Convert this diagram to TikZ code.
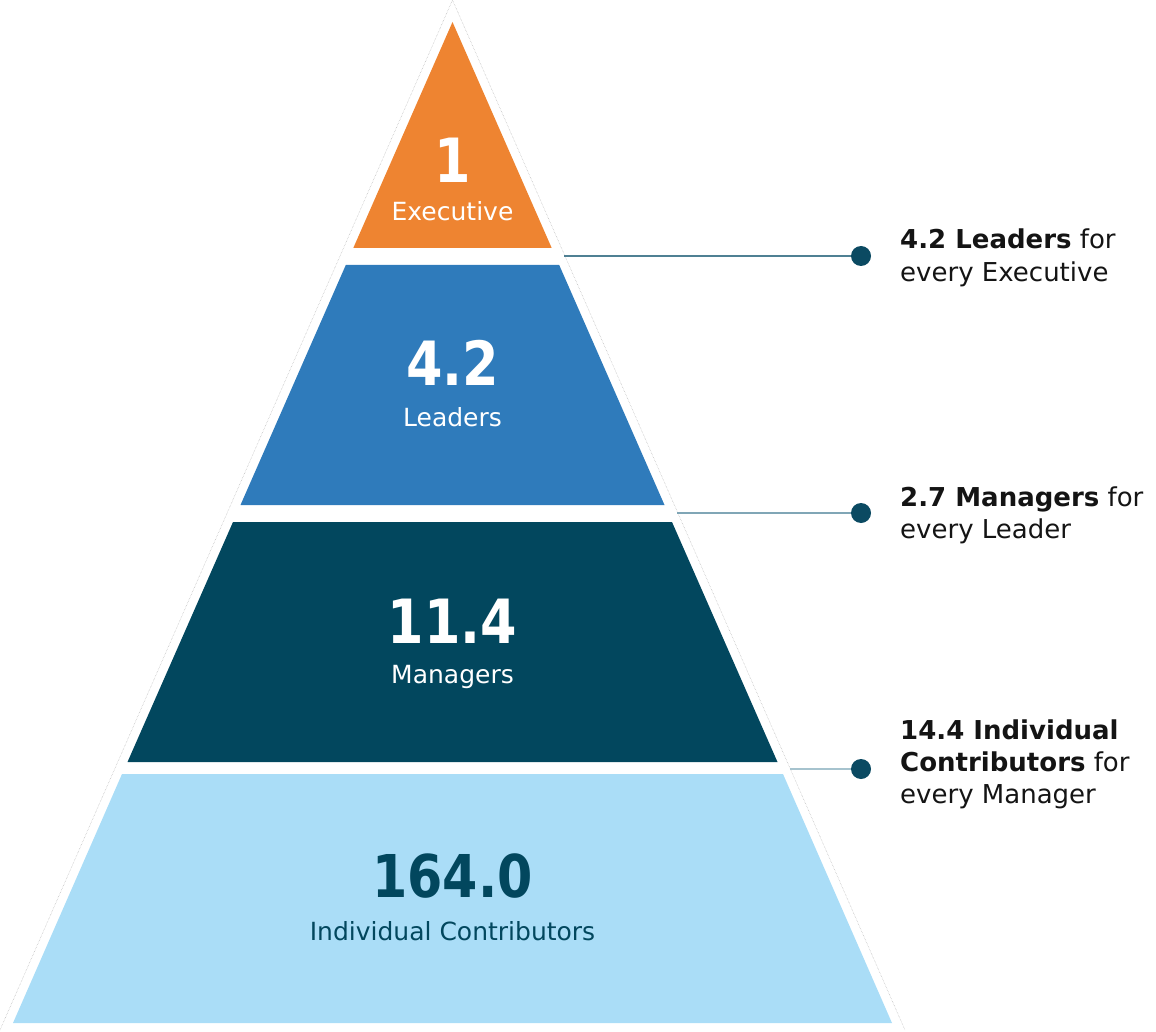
\documentclass[tikz,border=0pt]{standalone}
\usepackage{fontspec}
\setmainfont{DejaVu Sans}
\newfontfamily\numfont{DejaVu Sans}[FakeStretch=0.86]
\definecolor{cOrange}{HTML}{EE8431}
\definecolor{cBlue}{HTML}{2F7BBB}
\definecolor{cDark}{HTML}{02475E}
\definecolor{cLight}{HTML}{AADDF7}
\definecolor{cDot}{HTML}{0B4A62}
\definecolor{cLineA}{HTML}{4F8093}
\definecolor{cLineB}{HTML}{80A6B6}
\definecolor{cLineC}{HTML}{A6C3CE}
\definecolor{cText}{HTML}{141414}
\begin{document}
\begin{tikzpicture}[x=1pt,y=-1pt,
  bignum/.style={anchor=base,inner sep=0pt,font=\numfont\bfseries\fontsize{61}{61}\selectfont},
  sublabel/.style={anchor=base,inner sep=0pt,font=\fontsize{25}{25}\selectfont},
  sidetext/.style={anchor=base west,inner sep=0pt,text=cText,font=\fontsize{26}{26}\selectfont},
  dotnode/.style={circle,fill=cDot,inner sep=0pt,minimum size=20pt},
  conn/.style={line width=2.6pt},
  outline/.style={gray!60,line width=0.5pt,densely dotted}]
\useasboundingbox (0,0) rectangle (1156,1032);
% faint outer outline
\draw[outline] (0,1030) -- (452.5,0) -- (905,1030);
% segments
\fill[cOrange] (452.5,22) -- (551.7,248) -- (353.3,248) -- cycle;
\fill[cBlue] (345.8,265) -- (559.2,265) -- (664.5,505) -- (240.5,505) -- cycle;
\fill[cDark] (233,522) -- (672,522) -- (777.5,762) -- (127.5,762) -- cycle;
\fill[cLight] (122,774) -- (783,774) -- (892,1023) -- (13,1023) -- cycle;
% labels in pyramid
\node[bignum,text=white] (n1) at (452.5,183) {1};
\node[sublabel,text=white] (l1) at (452.5,221) {Executive};
\node[bignum,text=white] (n2) at (452.5,385) {4.2};
\node[sublabel,text=white] (l2) at (452.5,426) {Leaders};
\node[bignum,text=white] (n3) at (452.5,643) {11.4};
\node[sublabel,text=white] (l3) at (452.5,683) {Managers};
\node[bignum,text=cDark,font=\numfont\bfseries\fontsize{59}{59}\selectfont] (n4) at (452.5,897) {164.0};
\node[sublabel,text=cDark] (l4) at (452.5,940) {Individual Contributors};
% connectors
\coordinate (s1) at (564,256);
\coordinate (s2) at (677,513);
\coordinate (s3) at (790,769);
\coordinate (c1) at (861,256);
\coordinate (c2) at (861,513);
\coordinate (c3) at (861,769);
\draw[conn,cLineA] (s1) -- (c1);
\draw[conn,cLineB] (s2) -- (c2);
\draw[conn,cLineC] (s3) -- (c3);
\node[dotnode] (d1) at (c1) {};
\node[dotnode] (d2) at (c2) {};
\node[dotnode] (d3) at (c3) {};
% side texts
\node[sidetext] (t1a) at (900,249) {\textbf{4.2 Leaders} for};
\node[sidetext] (t1b) at (900,281) {every Executive};
\node[sidetext] (t2a) at (900,506) {\textbf{2.7 Managers} for};
\node[sidetext] (t2b) at (900,538) {every Leader};
\node[sidetext] (t3a) at (900,739) {\textbf{14.4 Individual}};
\node[sidetext] (t3b) at (900,771) {\textbf{Contributors} for};
\node[sidetext] (t3c) at (900,803) {every Manager};
\end{tikzpicture}
\end{document}
